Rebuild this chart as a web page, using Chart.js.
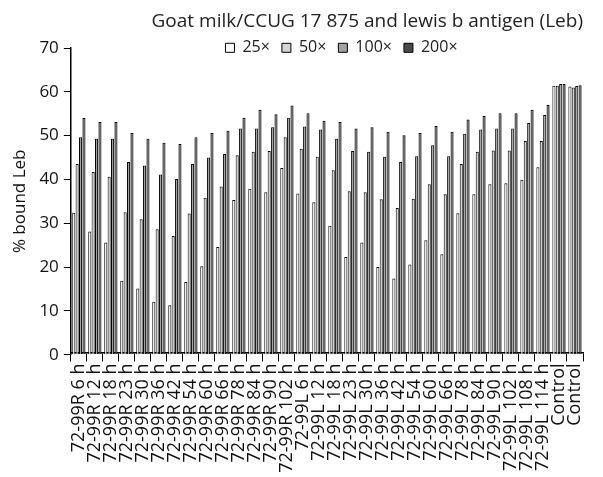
<!DOCTYPE html>
<html>
<head>
<meta charset="utf-8">
<script src="https://cdn.jsdelivr.net/npm/chart.js@4/dist/chart.umd.min.js"></script>
<style>
  html, body { margin: 0; padding: 0; background: #fff; }
  #wrap { width: 603px; height: 477px; }
</style>
</head>
<body>
<div id="wrap"><canvas id="graphique" width="603" height="477"></canvas></div>
<script>
// --- DONNEES ---
const categories = [
    '72-99R 6 h', '72-99R 12 h', '72-99R 18 h', '72-99R 23 h', '72-99R 30 h',
    '72-99R 36 h', '72-99R 42 h', '72-99R 54 h', '72-99R 60 h', '72-99R 66 h',
    '72-99R 78 h', '72-99R 84 h', '72-99R 90 h', '72-99R 102 h',
    '72-99L 6 h', '72-99L 12 h', '72-99L 18 h', '72-99L 23 h', '72-99L 30 h',
    '72-99L 36 h', '72-99L 42 h', '72-99L 54 h', '72-99L 60 h', '72-99L 66 h',
    '72-99L 78 h', '72-99L 84 h', '72-99L 90 h', '72-99L 102 h', '72-99L 108 h',
    '72-99L 114 h', 'Control', 'Control'
];
const dilution25 = [32.4, 28.1, 25.6, 16.9, 15.1, 12.1, 11.3, 16.6, 20.2, 24.6, 35.3, 37.9, 37.1, 42.6,
    36.8, 34.8, 29.4, 22.3, 25.6, 20.0, 17.4, 20.6, 26.1, 22.9, 32.3, 36.6, 38.9, 39.1, 39.9, 42.8, 61.4, 61.2];
const dilution50 = [43.5, 41.7, 40.6, 32.5, 30.9, 28.6, 27.1, 32.2, 35.8, 38.4, 45.5, 46.3, 46.5, 49.6,
    47.0, 45.2, 42.1, 37.3, 37.1, 35.5, 33.5, 35.6, 38.9, 36.6, 43.5, 46.3, 46.6, 46.6, 48.8, 48.8, 61.4, 61.0];
const dilution100 = [49.6, 49.3, 49.3, 44.0, 43.2, 41.1, 40.1, 43.5, 45.0, 45.8, 51.6, 51.6, 51.9, 54.1,
    52.1, 51.4, 49.3, 46.5, 46.3, 45.2, 44.0, 45.3, 47.8, 45.3, 50.4, 51.4, 51.6, 51.6, 52.9, 54.7, 61.8, 61.3];
const dilution200 = [54.0, 53.1, 53.1, 50.6, 49.3, 48.4, 48.1, 49.6, 50.6, 51.1, 54.1, 55.9, 54.9, 56.9,
    55.1, 53.4, 53.1, 51.6, 51.9, 50.9, 50.1, 50.6, 52.2, 50.9, 53.7, 54.5, 55.1, 55.1, 55.9, 57.0, 61.8, 61.5];
const nomsSeries = ['25×', '50×', '100×', '200×'];
const ticksY = [0, 10, 20, 30, 40, 50, 60, 70];

const police = "'Open Sans', sans-serif";
const couleurs = ['#ffffff', '#d4d4d4', '#a2a2a2', '#4a4a4a'];
const seriesValeurs = [dilution25, dilution50, dilution100, dilution200];

// Descend la legende sur la ligne du 70 et la decale vers la droite
const decalageLegende = {
    id: 'decalageLegende',
    afterLayout(chart) {
        const l = chart.legend;
        if (l) {
            const dy = 20, dx = 47;
            l.top += dy; l.bottom += dy;
            l.left += dx; l.right += dx;
        }
    }
};

const ctx = document.getElementById('graphique').getContext('2d');
new Chart(ctx, {
    type: 'bar',
    data: {
        labels: categories,
        datasets: seriesValeurs.map((vals, i) => ({
            label: nomsSeries[i],
            data: vals,
            backgroundColor: couleurs[i],
            borderColor: '#000',
            borderWidth: 1,
            barPercentage: 0.9,
            categoryPercentage: 0.85
        }))
    },
    options: {
        responsive: false,
        animation: false,
        layout: { padding: { left: 6, right: 20, top: 10, bottom: 0 } },
        plugins: {
            title: {
                display: true,
                text: 'Goat milk/CCUG 17 875 and lewis b antigen (Leb)',
                align: 'end',
                color: '#222',
                font: { family: police, size: 19, weight: 'normal' },
                padding: { top: 0, bottom: -25 }
            },
            legend: {
                position: 'top',
                labels: {
                    color: '#222',
                    font: { family: police, size: 16 },
                    boxWidth: 9,
                    boxHeight: 9,
                    padding: 12
                }
            },
            tooltip: { enabled: false }
        },
        scales: {
            x: {
                grid: { display: true, drawOnChartArea: false, offset: true, color: '#000', tickLength: 9 },
                border: { color: '#000', width: 1.5 },
                ticks: {
                    color: '#111',
                    autoSkip: false,
                    maxRotation: 90,
                    minRotation: 90,
                    padding: 2,
                    font: { family: police, size: 18 }
                }
            },
            y: {
                min: 0,
                max: 70,
                afterBuildTicks(axis) { axis.ticks = ticksY.map(v => ({ value: v })); },
                grid: { display: true, drawOnChartArea: false, color: '#000', tickLength: 7 },
                border: { color: '#000', width: 1.5 },
                ticks: {
                    color: '#111',
                    padding: 5,
                    font: { family: police, size: 17 }
                },
                title: {
                    display: true,
                    text: '% bound Leb',
                    color: '#111',
                    font: { family: police, size: 17 }
                }
            }
        }
    },
    plugins: [decalageLegende]
});
</script>
</body>
</html>
